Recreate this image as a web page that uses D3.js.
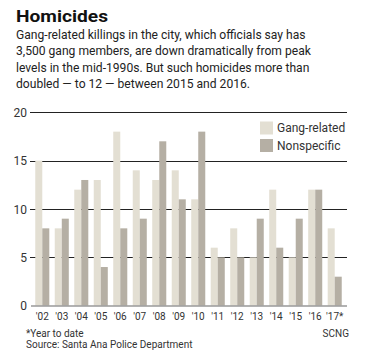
<!DOCTYPE html>
<html><head><meta charset="utf-8">
<script src="https://cdn.jsdelivr.net/npm/d3@7"></script>
<style>body{margin:0;background:#fff;} svg{display:block;font-family:Roboto, "Noto Sans", sans-serif;}</style>
</head><body>
<script>
const years = ["'02","'03","'04","'05","'06","'07","'08","'09","'10","'11","'12","'13","'14","'15","'16","'17*"];
const gangRelated = [15, 8, 12, 13, 18, 14, 13, 14, 11, 6, 8, 5, 12, 5, 12, 8];
const nonspecific = [8, 9, 13, 4, 8, 9, 17, 11, 18, 5, 5, 9, 6, 9, 12, 3];
const yTicks = [0, 5, 10, 15, 20];
const seriesNames = ["Gang-related", "Nonspecific"];
const colors = ["#e3dfd3", "#b5afa4"];

const W = 388, H = 355;
const svg = d3.select("body").append("svg").attr("width", W).attr("height", H);

svg.append("text").attr("x", 16).attr("y", 22).attr("font-size", 17).attr("font-weight", 700).attr("fill", "#111")
  .attr("textLength", 92).attr("lengthAdjust", "spacingAndGlyphs").text("Homicides");
const desc = ["Gang-related killings in the city, which officials say has",
  "3,500 gang members, are down dramatically from peak",
  "levels in the mid-1990s. But such homicides more than",
  "doubled \u2014 to 12 \u2014 between 2015 and 2016."];
svg.append("g").selectAll("text").data(desc).join("text")
  .attr("x", 16).attr("y", (d, i) => 39 + i * 16.3)
  .attr("font-size", 12.1).attr("fill", "#222").text(d => d);

const x0 = d3.scaleBand().domain(years).range([30, 347]).paddingInner(0.28).paddingOuter(0.27);
const x1 = d3.scaleBand().domain([0, 1]).range([0, x0.bandwidth()]);
const y = d3.scaleLinear().domain([0, 20]).range([305.7, 112.3]);

// gridlines
svg.append("g").selectAll("line").data(yTicks.filter(d => d > 0)).join("line")
  .attr("x1", 30).attr("x2", 347).attr("y1", d => Math.round(y(d)) + 0.5).attr("y2", d => Math.round(y(d)) + 0.5)
  .attr("stroke", "#222").attr("stroke-width", 1);

// y labels
svg.append("g").selectAll("text").data(yTicks).join("text")
  .attr("x", 27).attr("y", d => y(d) + 4.5).attr("text-anchor", "end")
  .attr("font-size", 12).attr("fill", "#333").text(d => d);

// bars
const data = years.map((yr, i) => ({yr, vals: [gangRelated[i], nonspecific[i]]}));
const g = svg.append("g").selectAll("g").data(data).join("g").attr("transform", d => `translate(${x0(d.yr)},0)`);
g.selectAll("rect").data(d => d.vals.map((v, k) => ({v, k}))).join("rect")
  .attr("x", d => x1(d.k)).attr("width", x1.bandwidth())
  .attr("y", d => y(d.v)).attr("height", d => y(0) - y(d.v))
  .attr("fill", d => colors[d.k]);

// baseline
svg.append("line").attr("x1", 31).attr("x2", 347).attr("y1", 306).attr("y2", 306).attr("stroke", "#999").attr("stroke-width", 1.5);

// x labels
svg.append("g").selectAll("text").data(years).join("text")
  .attr("x", d => x0(d) + x0.bandwidth() / 2).attr("y", 320).attr("text-anchor", "middle")
  .attr("font-size", 10).attr("fill", "#333").text(d => d);

// legend
const leg = svg.append("g").attr("transform", "translate(260,121.5)");
seriesNames.forEach((n, i) => {
  leg.append("rect").attr("x", 0).attr("y", i * 17.5).attr("width", 13).attr("height", 13).attr("fill", colors[i]);
  leg.append("text").attr("x", 17).attr("y", i * 17.5 + 10.5).attr("font-size", 12).attr("fill", "#333").text(n);
});

// footer
svg.append("text").attr("x", 26).attr("y", 337).attr("font-size", 10).attr("fill", "#333").text("*Year to date");
svg.append("text").attr("x", 26).attr("y", 348).attr("font-size", 10).attr("fill", "#333").text("Source: Santa Ana Police Department");
svg.append("text").attr("x", 349).attr("y", 337).attr("text-anchor", "end").attr("font-size", 10).attr("fill", "#333").text("SCNG");
</script>
</body></html>
